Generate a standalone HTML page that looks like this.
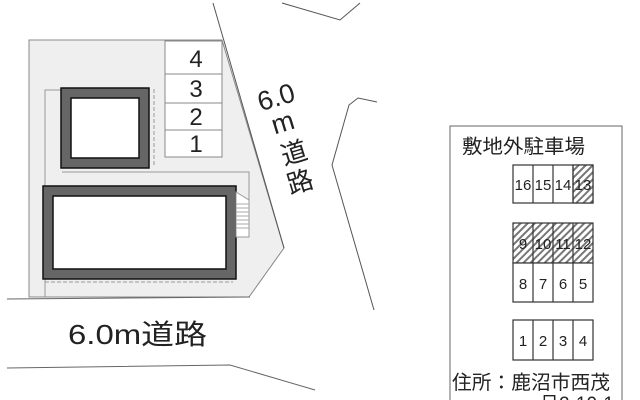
<!DOCTYPE html>
<html><head><meta charset="utf-8"><style>
html,body{margin:0;padding:0;background:#fff;width:640px;height:400px;overflow:hidden}
svg{display:block}
text{font-family:"Liberation Sans","Noto Sans CJK JP",sans-serif;fill:#222}
</style></head><body>
<svg width="640" height="400" viewBox="0 0 640 400" xmlns="http://www.w3.org/2000/svg">
<defs>
<pattern id="h" width="5" height="5" patternUnits="userSpaceOnUse" patternTransform="rotate(45)">
<rect width="5" height="5" fill="#fff"/><rect width="2" height="5" fill="#777"/>
</pattern>
</defs>
<polygon points="29,40 222,40 284,248 249,297 29,297" fill="#efefef" stroke="#888" stroke-width="1"/>
<line x1="213" y1="3" x2="284" y2="248" stroke="#555" stroke-width="1"/>
<line x1="7" y1="299" x2="250" y2="297" stroke="#666" stroke-width="1"/>
<g fill="#fff" stroke="#888" stroke-width="1">
<rect x="165" y="41" width="57" height="33"/>
<rect x="165" y="74" width="57" height="29"/>
<rect x="165" y="103" width="57" height="27"/>
<rect x="165" y="130" width="57" height="27"/>
</g>
<g font-size="24" text-anchor="middle">
<text x="196" y="67">4</text><text x="196" y="97">3</text>
<text x="196" y="125">2</text><text x="196" y="152">1</text>
</g>
<polyline points="45,297 45,90 62,90" fill="none" stroke="#999" stroke-width="1"/>
<polyline points="62,172 249,172 249,237" fill="none" stroke="#999" stroke-width="1"/>
<line x1="154" y1="89" x2="154" y2="166" stroke="#999" stroke-dasharray="4,2"/>
<line x1="45" y1="282" x2="233" y2="282" stroke="#999" stroke-dasharray="4,2"/>
<rect x="61" y="88" width="88" height="80" fill="#666" stroke="#111" stroke-width="1.5"/>
<rect x="71" y="98" width="68" height="60" fill="#fff" stroke="#111" stroke-width="1.5"/>
<rect x="43" y="186" width="193" height="93" fill="#666" stroke="#111" stroke-width="1.5"/>
<rect x="53" y="196" width="173" height="73" fill="#fff" stroke="#111" stroke-width="1.5"/>
<polygon points="236,192 249,200 249,237 236,237" fill="#fff" stroke="#999"/>
<g stroke="#aaa"><line x1="236" y1="204" x2="249" y2="204"/><line x1="236" y1="208" x2="249" y2="208"/><line x1="236" y1="212" x2="249" y2="212"/><line x1="236" y1="216" x2="249" y2="216"/><line x1="236" y1="220" x2="249" y2="220"/><line x1="236" y1="224" x2="249" y2="224"/><line x1="236" y1="228" x2="249" y2="228"/></g>
<polyline points="282,3 340,20 360,3" fill="none" stroke="#555"/>
<polyline points="377,102 358,98 349,105 332,165 374,310" fill="none" stroke="#555"/>
<polyline points="7,368 230,365 315,390" fill="none" stroke="#666"/>
<text x="257" y="106" font-size="27" transform="rotate(-17 277 96)">6.0</text>
<text x="272" y="131" font-size="27" transform="rotate(-17 285 124)">m</text>
<text x="281" y="162" font-size="26" transform="rotate(-17 294 153)">道</text>
<text x="287" y="191" font-size="26" transform="rotate(-17 300 182)">路</text>
<text x="68" y="344" font-size="28" textLength="139" lengthAdjust="spacingAndGlyphs">6.0m道路</text>
<rect x="450" y="126" width="172" height="290" fill="#fff" stroke="#666"/>
<text x="462" y="153" font-size="19.5" textLength="123" lengthAdjust="spacingAndGlyphs">敷地外駐車場</text>
<g stroke="#333" stroke-width="1.2">
<rect x="513" y="165" width="80" height="38" fill="#fff"/>
<rect x="573" y="165" width="20" height="38" fill="url(#h)"/>
<line x1="533" y1="165" x2="533" y2="203"/><line x1="553" y1="165" x2="553" y2="203"/><line x1="573" y1="165" x2="573" y2="203"/>
<rect x="513" y="223" width="80" height="40" fill="url(#h)"/>
<rect x="513" y="263" width="80" height="39" fill="#fff"/>
<line x1="533" y1="223" x2="533" y2="302"/><line x1="553" y1="223" x2="553" y2="302"/><line x1="573" y1="223" x2="573" y2="302"/>
<rect x="513" y="320" width="80" height="40" fill="#fff"/>
<line x1="533" y1="320" x2="533" y2="360"/><line x1="553" y1="320" x2="553" y2="360"/><line x1="573" y1="320" x2="573" y2="360"/>
</g>
<g font-size="15" text-anchor="middle">
<text x="523" y="190">16</text><text x="543" y="190">15</text><text x="563" y="190">14</text><text x="583" y="190">13</text>
<text x="523" y="249">9</text><text x="543" y="249">10</text><text x="563" y="249">11</text><text x="583" y="249">12</text>
<text x="523" y="289">8</text><text x="543" y="289">7</text><text x="563" y="289">6</text><text x="583" y="289">5</text>
<text x="523" y="346">1</text><text x="543" y="346">2</text><text x="563" y="346">3</text><text x="583" y="346">4</text>
</g>
<text x="452" y="389" font-size="19.5" textLength="158" lengthAdjust="spacingAndGlyphs">住所：鹿沼市西茂</text>
<text x="540" y="410" font-size="19">呂2-10-1</text>
</svg>
</body></html>
